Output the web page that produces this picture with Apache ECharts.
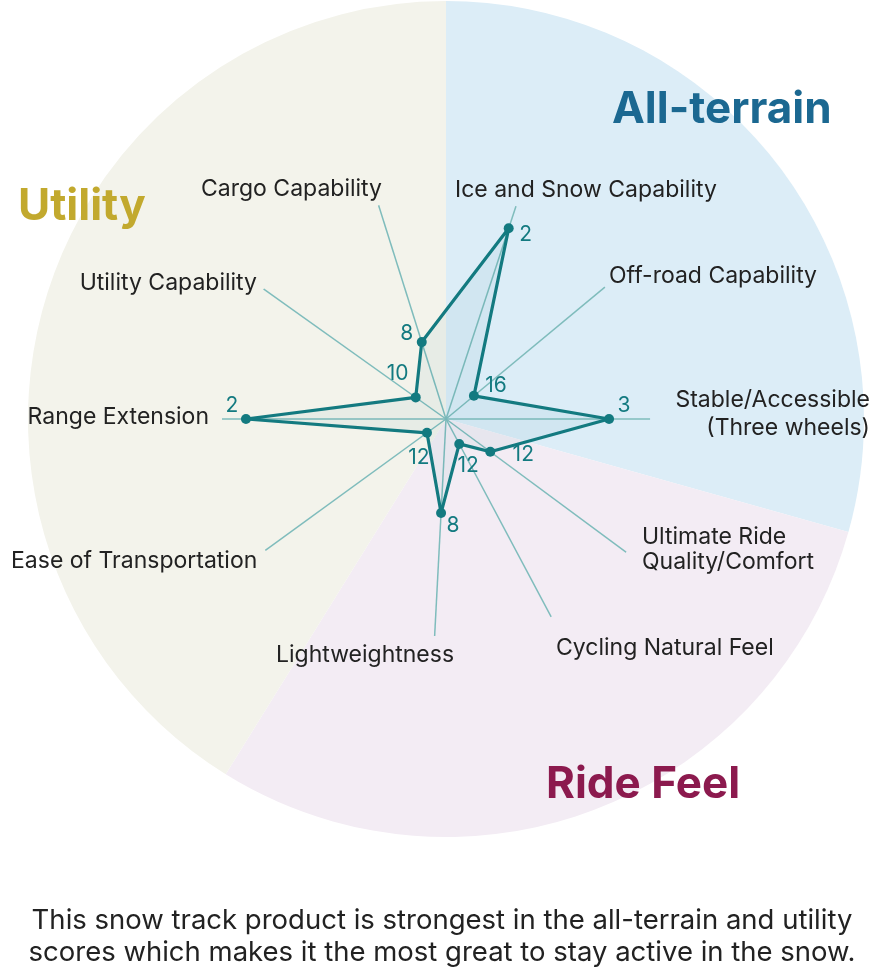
<!DOCTYPE html>
<html>
<head>
<meta charset="utf-8">
<script src="https://cdn.jsdelivr.net/npm/echarts@6/dist/echarts.min.js"></script>
<style>
  html, body { margin: 0; padding: 0; background: #fff; }
  #chart { width: 883px; height: 970px; }
</style>
</head>
<body>
<div id="chart"></div>
<script>
// indicators, clockwise from 12 o'clock
var indicators = ['Ice and Snow Capability', 'Off-road Capability', 'Stable/Accessible\n(Three wheels)',
    'Ultimate Ride\nQuality/Comfort', 'Cycling Natural Feel', 'Lightweightness',
    'Ease of Transportation', 'Range Extension', 'Utility Capability', 'Cargo Capability'];
var angles = [18.2, 50.3, 90, 126.5, 152, 183, 234, 270, 305.5, 342.5];
var spokeLengths = [100.7, 92.2, 91.1, 100.9, 103.8, 97, 99.7, 100.9, 100.3, 100.2];
var scores = [89.6, 16.2, 72.8, 24.6, 12.6, 42, 10.5, 89.3, 16.6, 36];
var ranks = ['2', '16', '3', '12', '12', '8', '12', '2', '10', '8'];

// background groups
var groups = ['All-terrain', 'Ride Feel', 'Utility'];
var groupSpans = [105.7, 106.1, 148.2];

var teal = '#137a80';
var groupColors = ['#dcedf7', '#f3ecf4', '#f3f3eb'];

// where the rank numbers sit relative to their point
var rankOffsets = [[17, 6], [22, -10], [15, -13], [33, 3], [9, 22], [12, 13], [-8, 25], [-14, -13], [-18, -24], [-15, -8]];

// axis name placement: [x, y (middle of block), align]
var namePlace = [
    [455, 190, 'left'], [609, 276, 'left'], [870, 414, 'right'],
    [642, 550, 'left'], [556, 648, 'left'], [276, 655, 'left'],
    [11, 561, 'left'], [209, 417, 'right'], [257, 283, 'right'], [382, 189, 'right']
];

var chart = echarts.init(document.getElementById('chart'));

var spokeSeries = indicators.map(function (name, i) {
    return {
        type: 'line',
        coordinateSystem: 'polar',
        silent: true,
        z: 3,
        symbol: 'none',
        lineStyle: { color: '#7fbcbc', width: 1.5 },
        data: [[0, angles[i]], [spokeLengths[i], angles[i]]]
    };
});

var polyData = scores.map(function (s, i) {
    return {
        value: [s, angles[i]],
        label: {
            show: true,
            position: 'inside',
            offset: rankOffsets[i],
            formatter: ranks[i],
            color: teal,
            fontSize: 21,
            fontFamily: 'Inter'
        }
    };
});
polyData.push({ value: [scores[0], angles[0]], symbol: 'none', label: { show: false } });

var graphics = indicators.map(function (name, i) {
    return {
        type: 'text',
        z: 100,
        x: namePlace[i][0],
        y: namePlace[i][1],
        style: {
            text: name,
            fill: '#222',
            font: '23px Inter',
            align: namePlace[i][2],
            verticalAlign: 'middle',
            lineHeight: i === 2 ? 28 : 25
        }
    };
});

graphics.push(
    { type: 'text', z: 100, x: 612, y: 110, style: { text: groups[0], fill: '#1b6891', font: 'bold 44px Inter', verticalAlign: 'middle' } },
    { type: 'text', z: 100, x: 546, y: 785, style: { text: groups[1], fill: '#8c1a4e', font: 'bold 44px Inter', verticalAlign: 'middle' } },
    { type: 'text', z: 100, x: 18, y: 207, style: { text: groups[2], fill: '#c2a92e', font: 'bold 44px Inter', verticalAlign: 'middle' } },
    {
        type: 'text', z: 100, x: 442, y: 937,
        style: {
            text: 'This snow track product is strongest in the all-terrain and utility\nscores which makes it the most great to stay active in the snow.',
            fill: '#222', font: '27.5px Inter', align: 'center', verticalAlign: 'middle', lineHeight: 32
        }
    }
);

var option = {
    backgroundColor: '#fff',
    animation: false,
    polar: { center: [446, 419], radius: 224 },
    angleAxis: {
        type: 'value', min: 0, max: 360, startAngle: 90, clockwise: true,
        axisLine: { show: false }, axisTick: { show: false },
        axisLabel: { show: false }, splitLine: { show: false }
    },
    radiusAxis: {
        type: 'value', min: 0, max: 100,
        axisLine: { show: false }, axisTick: { show: false },
        axisLabel: { show: false }, splitLine: { show: false }
    },
    series: [{
        type: 'pie',
        center: [446, 419],
        radius: 418,
        startAngle: 90,
        clockwise: true,
        silent: true,
        z: 1,
        label: { show: false },
        labelLine: { show: false },
        itemStyle: { borderWidth: 0 },
        data: groups.map(function (g, i) {
            return { name: g, value: groupSpans[i], itemStyle: { color: groupColors[i] } };
        })
    }].concat(spokeSeries).concat([{
        type: 'line',
        coordinateSystem: 'polar',
        z: 5,
        symbol: 'circle',
        symbolSize: 10,
        showAllSymbol: true,
        itemStyle: { color: teal },
        lineStyle: { color: teal, width: 3.2 },
        areaStyle: { color: 'rgba(19,122,128,0.07)' },
        data: polyData
    }]),
    graphic: graphics
};

chart.setOption(option);
</script>
</body>
</html>
